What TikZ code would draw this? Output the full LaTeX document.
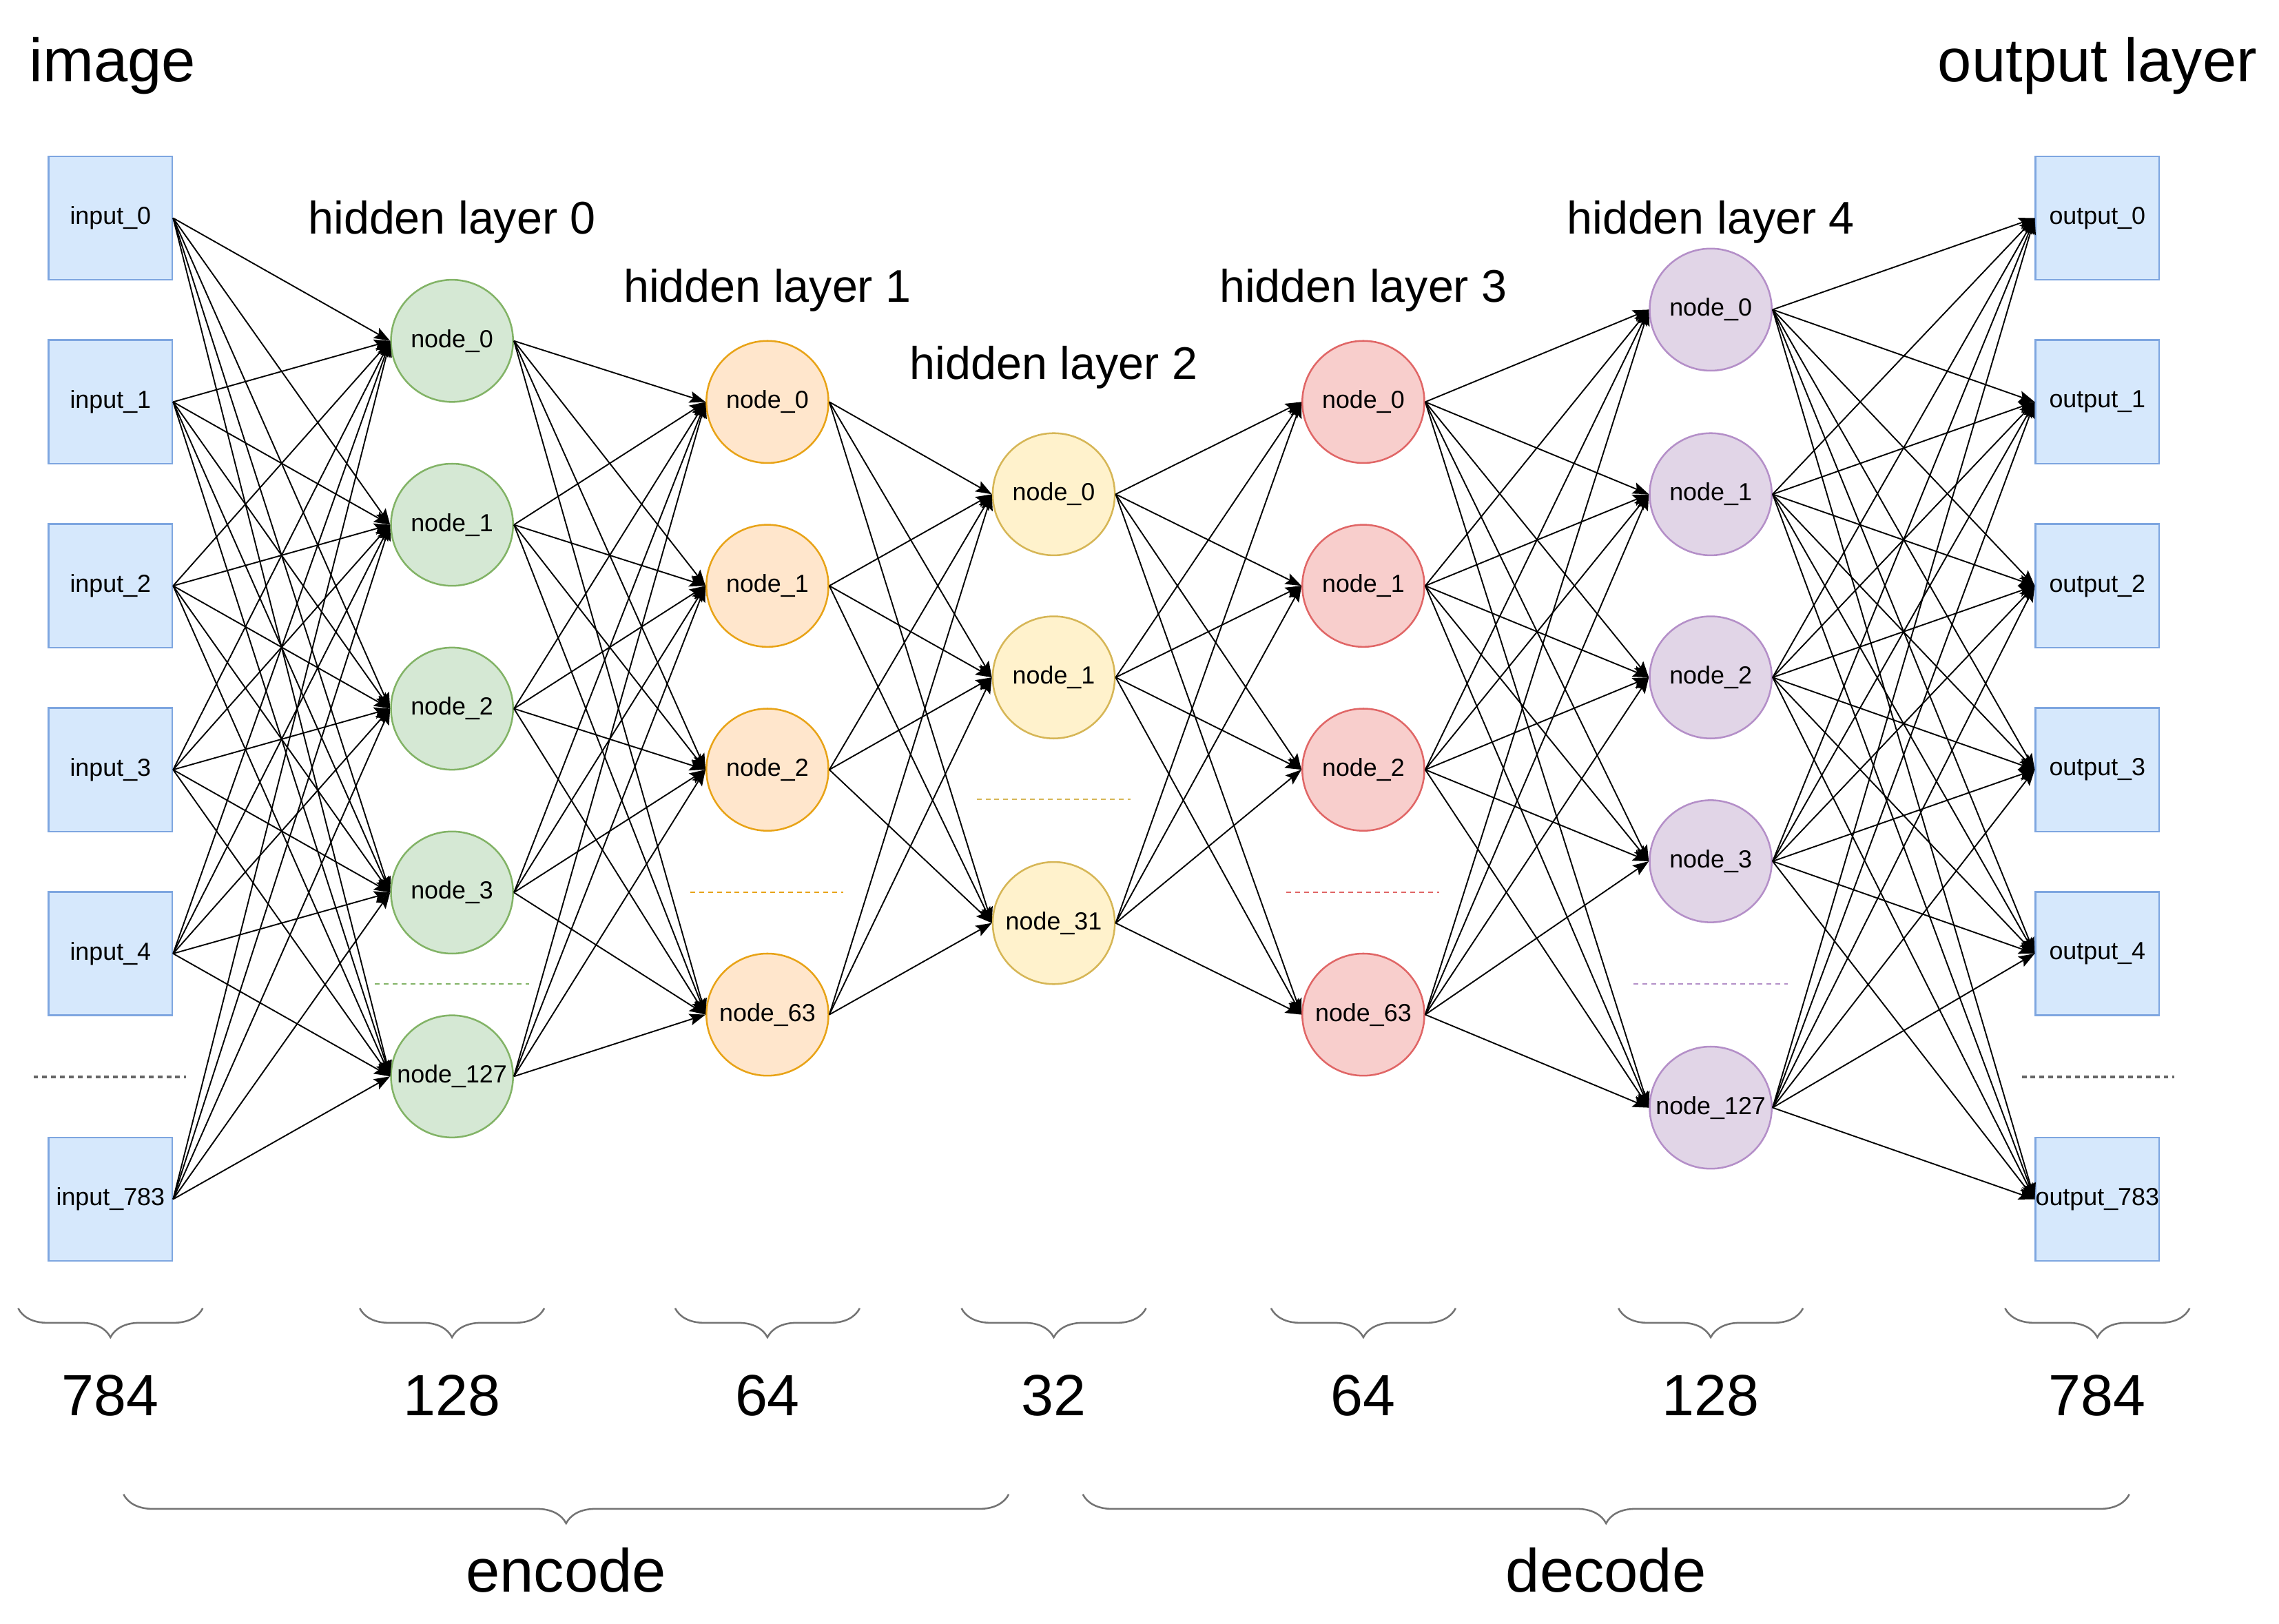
\documentclass[tikz,border=0pt]{standalone}
\usepackage{fontspec}
\setmainfont{Liberation Sans}
\usetikzlibrary{arrows.meta,decorations.pathreplacing}

\definecolor{boxfill}{HTML}{D6E8FC}
\definecolor{boxline}{HTML}{7EA6E0}
\definecolor{grnfill}{HTML}{D5E8D4}
\definecolor{grnline}{HTML}{82B366}
\definecolor{orgfill}{HTML}{FFE6CC}
\definecolor{orgline}{HTML}{E8A317}
\definecolor{ylwfill}{HTML}{FFF2CC}
\definecolor{ylwline}{HTML}{D6B656}
\definecolor{redfill}{HTML}{F8CECC}
\definecolor{redline}{HTML}{E06666}
\definecolor{prpfill}{HTML}{E1D5E7}
\definecolor{prpline}{HTML}{B48FC8}

\begin{document}
\begin{tikzpicture}[x=1pt,y=-1pt,
    iobox/.style={draw=boxline,fill=boxfill,line width=1.2pt,minimum size=85pt,inner sep=0pt,font=\fontsize{17}{20}\selectfont},
    neuron/.style 2 args={circle,fill=#1,draw=#2,line width=1.2pt,minimum size=84pt,inner sep=0pt,font=\fontsize{17}{20}\selectfont},
    link/.style={line width=0.9pt,-{Stealth[length=11pt,width=8pt,inset=2pt]}},
    gap/.style={line width=1pt,dash pattern=on 3.3pt off 2.8pt,draw=#1},
    brc/.style={draw=black!55,line width=1.2pt,decorate,decoration={brace,mirror,amplitude=20pt}},
    title/.style={inner sep=0pt,font=\fontsize{42}{50}\selectfont},
    sub/.style={inner sep=0pt,anchor=base,font=\fontsize{31.5}{38}\selectfont},
    numlbl/.style={inner sep=0pt,anchor=base,font=\fontsize{40}{48}\selectfont}]

  \useasboundingbox (0,0) rectangle (1568,1117);

  % titles
  \node[title,anchor=base west] (ttlin) at (20,56) {image};
  \node[title,anchor=base east] (ttlout) at (1553,56) {output layer};
  \node[sub] (ttl0) at (311,161) {hidden layer 0};
  \node[sub] (ttl1) at (528,208) {hidden layer 1};
  \node[sub] (ttl2) at (725,261) {hidden layer 2};
  \node[sub] (ttl3) at (938,208) {hidden layer 3};
  \node[sub] (ttl4) at (1177,161) {hidden layer 4};

  % input and output layer
  \foreach \n/\y in {0/150,1/276.5,2/403,3/529.5,4/656,783/825} {
    \node[iobox] (in\n) at (76,\y) {input\_\n};
    \node[iobox] (out\n) at (1443,\y) {output\_\n};
  }

  % hidden layers
  \foreach \n/\y in {0/234.5,1/361,2/487.5,3/614,127/740.5}
    \node[neuron={grnfill}{grnline}] (h0-\n) at (311,\y) {node\_\n};
  \foreach \n/\y in {0/276.5,1/403,2/529.5,63/698}
    \node[neuron={orgfill}{orgline}] (h1-\n) at (528,\y) {node\_\n};
  \foreach \n/\y in {0/340,1/466,31/635}
    \node[neuron={ylwfill}{ylwline}] (h2-\n) at (725,\y) {node\_\n};
  \foreach \n/\y in {0/276.5,1/403,2/529.5,63/698}
    \node[neuron={redfill}{redline}] (h3-\n) at (938,\y) {node\_\n};
  \foreach \n/\y in {0/213,1/340,2/466,3/592.5,127/762}
    \node[neuron={prpfill}{prpline}] (h4-\n) at (1177,\y) {node\_\n};

  % weights
  \foreach \i in {0,1,2,3,4,783}
    \foreach \j in {0,1,2,3,127}
      \draw[link] (in\i.east) -- (h0-\j.west);
  \foreach \i in {0,1,2,3,127}
    \foreach \j in {0,1,2,63}
      \draw[link] (h0-\i.east) -- (h1-\j.west);
  \foreach \i in {0,1,2,63}
    \foreach \j in {0,1,31}
      \draw[link] (h1-\i.east) -- (h2-\j.west);
  \foreach \i in {0,1,31}
    \foreach \j in {0,1,2,63}
      \draw[link] (h2-\i.east) -- (h3-\j.west);
  \foreach \i in {0,1,2,63}
    \foreach \j in {0,1,2,3,127}
      \draw[link] (h3-\i.east) -- (h4-\j.west);
  \foreach \i in {0,1,2,3,127}
    \foreach \j in {0,1,2,3,4,783}
      \draw[link] (h4-\i.east) -- (out\j.west);

  % skipped units
  \draw[gap=black!60,line width=1.8pt] (23,741) -- (128,741);
  \draw[gap=black!60,line width=1.8pt] (1391,741) -- (1496,741);
  \draw[gap=grnline] (258,677) -- (364,677);
  \draw[gap=orgline] (475,614) -- (580,614);
  \draw[gap=ylwline] (672,550) -- (778,550);
  \draw[gap=redline] (885,614) -- (990,614);
  \draw[gap=prpline] (1124,677) -- (1230,677);

  % layer sizes
  \foreach \x/\v in {76/784,311/128,528/64,725/32,938/64,1177/128,1443/784} {
    \draw[brc] (\x-63.5,900) -- (\x+63.5,900);
    \node[numlbl] (cnt\x) at (\x,974) {\v};
  }

  \draw[brc] (85,1028) -- (694,1028);
  \draw[brc] (745,1028) -- (1465,1028);
  \node[title,anchor=base] (enc) at (389.5,1095) {encode};
  \node[title,anchor=base] (dec) at (1105,1095) {decode};
\end{tikzpicture}
\end{document}
